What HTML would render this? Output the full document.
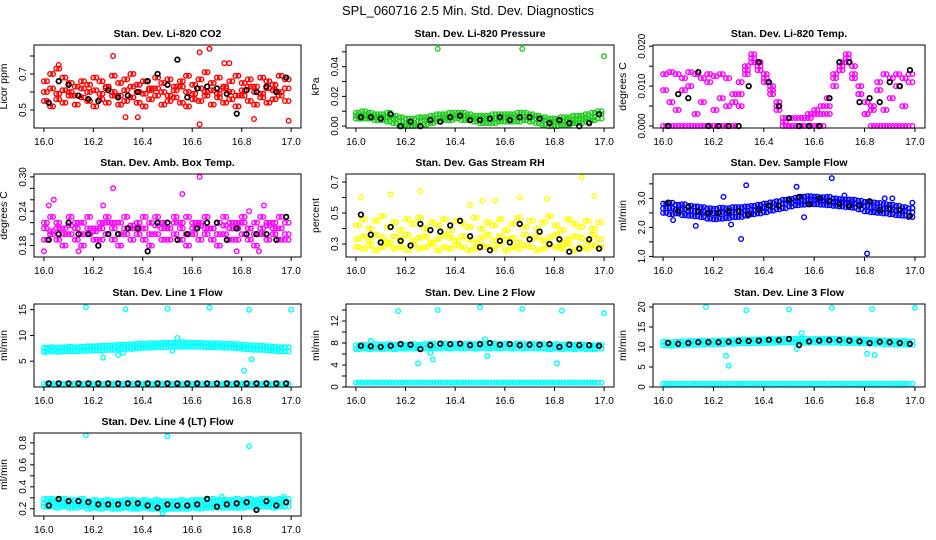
<!DOCTYPE html>
<html><head><meta charset="utf-8"><style>
body{margin:0;background:#fff;}
svg{display:block;font-family:"Liberation Sans",sans-serif;}
</style></head><body>
<svg id="chart" width="936" height="540" viewBox="0 0 936 540" xmlns="http://www.w3.org/2000/svg">
<rect width="936" height="540" fill="#fff"/>
<text x="468" y="15" text-anchor="middle" font-size="13">SPL_060716  2.5 Min. Std. Dev. Diagnostics</text>
</svg>
<script>
const T40=[16.000,16.025,16.050,16.075,16.100,16.125,16.150,16.175,16.200,16.225,16.250,16.275,16.300,16.325,16.350,16.375,16.400,16.425,16.450,16.475,16.500,16.525,16.550,16.575,16.600,16.625,16.650,16.675,16.700,16.725,16.750,16.775,16.800,16.825,16.850,16.875,16.900,16.925,16.950,16.975];
const T40B=[16.012,16.037,16.062,16.087,16.112,16.137,16.162,16.187,16.212,16.237,16.262,16.287,16.312,16.337,16.362,16.387,16.412,16.437,16.462,16.487,16.512,16.537,16.562,16.587,16.612,16.637,16.662,16.687,16.712,16.737,16.762,16.787,16.812,16.837,16.862,16.887,16.912,16.937,16.962,16.990];
const T25=[16.02,16.06,16.10,16.14,16.18,16.22,16.26,16.30,16.34,16.38,16.42,16.46,16.50,16.54,16.58,16.62,16.66,16.70,16.74,16.78,16.82,16.86,16.90,16.94,16.98];
const xTicks=[16.0,16.2,16.4,16.6,16.8,17.0];
const xTickLabels=["16.0","16.2","16.4","16.6","16.8","17.0"];

const co2A=[0.66,0.70,0.73,0.68,0.65,0.63,0.66,0.64,0.68,0.66,0.63,0.69,0.65,0.67,0.70,0.64,0.66,0.62,0.68,0.65,0.67,0.63,0.66,0.69,0.64,0.67,0.71,0.65,0.68,0.63,0.66,0.69,0.65,0.67,0.63,0.68,0.66,0.64,0.69,0.67];
const co2B=[0.55,0.52,0.56,0.54,0.58,0.53,0.57,0.55,0.52,0.56,0.54,0.58,0.53,0.55,0.57,0.54,0.52,0.56,0.58,0.53,0.55,0.57,0.54,0.52,0.56,0.55,0.58,0.53,0.57,0.54,0.56,0.52,0.58,0.55,0.53,0.57,0.54,0.56,0.58,0.55];
const co2C=[0.60,0.62,0.59,0.61,0.60,0.58,0.62,0.60,0.61,0.59,0.62,0.60,0.58,0.61,0.63,0.60,0.59,0.61,0.62,0.60,0.58,0.61,0.63,0.60,0.59,0.62,0.60,0.61,0.59,0.62,0.60,0.58,0.61,0.63,0.60,0.59,0.62,0.61,0.60,0.62];
const co2K=[0.54,0.66,0.64,0.58,0.56,0.55,0.61,0.57,0.58,0.60,0.66,0.70,0.64,0.78,0.57,0.62,0.63,0.62,0.59,0.48,0.61,0.60,0.63,0.60,0.68];
const co2OX=[16.28,16.63,16.67,16.63,16.99,16.85,16.33,16.38,16.75,16.73,16.06];
const co2OY=[0.80,0.82,0.84,0.42,0.44,0.45,0.46,0.46,0.76,0.76,0.75];
const prA=[0.009,0.010,0.009,0.008,0.008,0.009,0.007,0.006,0.005,0.005,0.006,0.006,0.007,0.008,0.008,0.009,0.009,0.009,0.008,0.007,0.007,0.007,0.008,0.008,0.008,0.008,0.009,0.009,0.008,0.007,0.006,0.005,0.005,0.006,0.006,0.007,0.007,0.008,0.009,0.010];
const prB=[0.005,0.005,0.005,0.004,0.004,0.003,0.002,0.000,0.000,0.000,0.000,0.001,0.002,0.003,0.004,0.004,0.005,0.004,0.004,0.003,0.002,0.002,0.002,0.003,0.003,0.003,0.003,0.004,0.003,0.002,0.001,0.000,0.000,0.001,0.001,0.002,0.002,0.003,0.004,0.005];
const prC=[0.007,0.007,0.007,0.006,0.006,0.006,0.005,0.003,0.002,0.002,0.003,0.004,0.005,0.005,0.006,0.006,0.007,0.007,0.006,0.005,0.005,0.005,0.005,0.005,0.006,0.006,0.006,0.006,0.006,0.005,0.004,0.003,0.003,0.003,0.004,0.004,0.005,0.005,0.006,0.008];
const prK=[0.006,0.006,0.005,0.008,0.000,0.003,0.000,0.004,0.003,0.006,0.007,0.004,0.004,0.005,0.006,0.004,0.006,0.006,0.005,0.002,0.004,0.002,0.000,0.002,0.008];
const prOX=[16.33,16.67,17.0];
const prOY=[0.052,0.052,0.047];
const tpA=[0.013,0.0135,0.013,0.012,0.0135,0.013,0.012,0.013,0.0125,0.013,0.012,0.008,0.011,0.015,0.017,0.016,0.012,0.008,0.004,0.002,0.000,0.002,0.002,0.003,0.004,0.005,0.007,0.012,0.016,0.018,0.015,0.010,0.006,0.004,0.011,0.013,0.012,0.013,0.012,0.013];
const tpB=[0,0,0,0,0,0,0,0,0,0,0,0,0.005,0.013,0.016,0.015,0.013,0.010,0.006,0.001,0,0,0,0,0,0,0.003,0.010,0.014,0.016,0.013,0.008,0.003,0,0,0,0,0,0,0];
const tpC=[0.009,0.006,0.004,0.009,0.010,0.003,0.006,0.011,0.004,0.007,0.005,0.006,0.008,0.014,0.018,0.014,0.011,0.009,0.005,0.000,0.002,0.000,0.002,0.002,0.003,0.003,0.005,0.013,0.015,0.017,0.012,0.008,0.003,0.005,0.009,0.004,0.007,0.010,0.005,0.011];
const tpK=[0.000,0.008,0.007,0.0135,0.000,0.000,0.000,0.000,0.010,0.016,0.011,0.005,0.002,0.000,0.000,0.000,0.007,0.016,0.016,0.006,0.007,0.006,0.011,0.010,0.014];
const abA=[0.22,0.23,0.22,0.21,0.23,0.22,0.22,0.23,0.21,0.22,0.23,0.22,0.22,0.23,0.21,0.22,0.23,0.22,0.23,0.22,0.21,0.23,0.22,0.23,0.22,0.22,0.23,0.21,0.22,0.23,0.22,0.22,0.23,0.21,0.22,0.23,0.22,0.22,0.23,0.22];
const abB=[0.19,0.20,0.19,0.18,0.20,0.19,0.18,0.20,0.19,0.19,0.20,0.19,0.18,0.20,0.19,0.20,0.19,0.18,0.20,0.19,0.19,0.20,0.19,0.18,0.20,0.19,0.20,0.19,0.18,0.20,0.19,0.19,0.20,0.19,0.18,0.20,0.19,0.20,0.19,0.19];
const abC=[0.21,0.205,0.21,0.20,0.215,0.21,0.20,0.21,0.205,0.21,0.22,0.21,0.20,0.21,0.215,0.21,0.21,0.20,0.215,0.21,0.21,0.22,0.21,0.20,0.21,0.215,0.21,0.21,0.20,0.215,0.21,0.21,0.22,0.21,0.20,0.21,0.215,0.21,0.21,0.20];
const abK=[0.19,0.20,0.22,0.20,0.20,0.18,0.20,0.20,0.21,0.21,0.17,0.22,0.22,0.19,0.20,0.21,0.22,0.22,0.19,0.21,0.20,0.20,0.20,0.19,0.23];
const abOX=[16.02,16.04,16.28,16.63,16.56,16.00,16.14,16.42,16.87,16.78,16.89,16.24,16.83];
const abOY=[0.25,0.26,0.28,0.30,0.27,0.17,0.17,0.17,0.17,0.17,0.25,0.25,0.24];
const rhA=[0.42,0.46,0.40,0.45,0.48,0.41,0.44,0.39,0.46,0.43,0.47,0.40,0.44,0.42,0.46,0.39,0.45,0.43,0.41,0.47,0.40,0.44,0.42,0.46,0.39,0.43,0.47,0.41,0.45,0.40,0.44,0.48,0.42,0.39,0.46,0.43,0.41,0.45,0.40,0.44];
const rhB=[0.28,0.27,0.29,0.26,0.28,0.30,0.27,0.28,0.26,0.29,0.27,0.28,0.30,0.26,0.28,0.27,0.29,0.28,0.26,0.27,0.29,0.28,0.27,0.30,0.26,0.28,0.27,0.29,0.28,0.26,0.27,0.29,0.28,0.27,0.30,0.26,0.28,0.27,0.29,0.28];
const rhC=[0.33,0.35,0.32,0.36,0.34,0.31,0.35,0.33,0.36,0.32,0.34,0.35,0.31,0.33,0.36,0.34,0.32,0.35,0.33,0.31,0.34,0.36,0.32,0.35,0.33,0.34,0.31,0.36,0.33,0.35,0.32,0.34,0.36,0.31,0.33,0.35,0.34,0.32,0.36,0.33];
const rhK=[0.49,0.36,0.31,0.41,0.32,0.29,0.43,0.39,0.38,0.42,0.45,0.35,0.28,0.26,0.32,0.31,0.43,0.33,0.38,0.30,0.33,0.25,0.27,0.33,0.27];
const rhOX=[16.02,16.14,16.26,16.91,16.96,16.51,16.56,16.77,16.66,16.46];
const rhOY=[0.60,0.62,0.64,0.73,0.61,0.58,0.58,0.59,0.60,0.55];
const sfA=[2.82,2.85,2.78,2.80,2.74,2.72,2.70,2.66,2.64,2.68,2.66,2.70,2.70,2.72,2.74,2.78,2.82,2.86,2.90,2.95,2.98,3.02,3.06,3.08,3.06,3.04,3.05,3.00,2.98,2.96,2.95,2.92,2.88,2.86,2.84,2.80,2.78,2.74,2.70,2.66];
const sfB=[2.50,2.45,2.48,2.42,2.40,2.38,2.35,2.30,2.28,2.30,2.32,2.35,2.36,2.40,2.45,2.48,2.52,2.58,2.62,2.66,2.72,2.76,2.78,2.80,2.80,2.78,2.76,2.74,2.72,2.70,2.68,2.62,2.55,2.52,2.50,2.48,2.45,2.42,2.40,2.36];
const sfC=[2.65,2.66,2.62,2.62,2.58,2.56,2.54,2.50,2.48,2.50,2.50,2.52,2.54,2.56,2.60,2.64,2.68,2.72,2.76,2.82,2.86,2.90,2.92,2.94,2.94,2.92,2.90,2.88,2.86,2.84,2.82,2.78,2.74,2.70,2.68,2.66,2.62,2.60,2.56,2.52];
const sfK=[2.85,2.55,2.70,2.55,2.50,2.50,2.55,2.55,2.45,2.60,2.75,2.75,2.95,3.05,2.80,3.00,2.90,2.80,2.75,2.75,2.90,2.60,2.65,2.60,2.40];
const sfOX=[16.13,16.27,16.31,16.33,16.67,16.81,16.56,16.24,16.53,16.88,16.91,16.99,16.72,16.04];
const sfOY=[2.05,2.10,1.60,3.45,3.70,1.10,2.35,3.05,3.40,3.00,3.00,2.85,3.10,2.25];
const l1A=[7.6,7.7,7.6,7.7,7.8,7.7,7.8,7.9,7.9,8.0,8.0,8.1,8.2,8.2,8.3,8.4,8.4,8.5,8.5,8.6,8.6,8.6,8.7,8.6,8.6,8.6,8.5,8.5,8.5,8.4,8.4,8.3,8.2,8.1,8.0,8.0,7.9,7.8,7.7,7.7];
const l1B=[6.8,6.9,6.8,6.9,6.9,6.9,7.0,7.0,7.1,7.1,7.2,7.2,7.3,7.4,7.4,7.5,7.6,7.6,7.7,7.7,7.8,7.8,7.8,7.8,7.8,7.8,7.7,7.7,7.7,7.6,7.6,7.5,7.4,7.3,7.2,7.2,7.1,7.0,6.9,6.9];
const l1C=[0.6,0.6,0.6,0.6,0.6,0.6,0.6,0.6,0.6,0.6,0.6,0.6,0.6,0.6,0.6,0.6,0.6,0.6,0.6,0.6,0.6,0.6,0.6,0.6,0.6,0.6,0.6,0.6,0.6,0.6,0.6,0.6,0.6,0.6,0.6,0.6,0.6,0.6,0.6,0.6];
const l1K=[0.7,0.7,0.7,0.7,0.7,0.7,0.7,0.7,0.7,0.7,0.7,0.7,0.7,0.7,0.7,0.7,0.7,0.7,0.7,0.7,0.7,0.7,0.7,0.7,0.7];
const l1OX=[16.17,16.33,16.50,16.67,16.83,17.00,16.24,16.30,16.32,16.81,16.84,16.52,16.54,16.00];
const l1OY=[15.5,15.1,15.2,15.4,15.0,15.0,5.7,6.2,6.6,3.2,5.4,7.0,9.5,6.9];
const l2A=[7.6,7.7,7.6,7.8,7.7,7.8,7.7,7.8,7.7,7.8,7.7,7.8,7.9,7.8,7.9,7.8,7.9,7.8,7.9,7.8,7.9,7.8,7.9,7.8,7.9,7.8,7.9,7.8,7.9,7.8,7.8,7.7,7.8,7.7,7.8,7.7,7.8,7.7,7.6,7.7];
const l2B=[6.9,7.0,6.9,7.0,6.9,7.0,6.9,7.0,7.0,7.0,7.0,7.0,7.1,7.0,7.1,7.0,7.1,7.0,7.1,7.0,7.1,7.0,7.1,7.0,7.1,7.0,7.1,7.0,7.1,7.0,7.0,6.9,7.0,6.9,7.0,6.9,7.0,6.9,6.9,7.0];
const l2C=[0.8,0.8,0.8,0.8,0.8,0.8,0.8,0.8,0.8,0.8,0.8,0.8,0.8,0.8,0.8,0.8,0.8,0.8,0.8,0.8,0.8,0.8,0.8,0.8,0.8,0.8,0.8,0.8,0.8,0.8,0.8,0.8,0.8,0.8,0.8,0.8,0.8,0.8,0.8,0.8];
const l2K=[7.5,7.4,7.3,7.5,7.8,7.7,6.9,7.6,7.9,7.8,7.9,7.6,7.8,8.0,7.7,7.8,7.6,7.7,7.7,7.8,7.3,7.7,7.6,7.6,7.5];
const l2OX=[16.17,16.33,16.50,16.67,16.83,17.00,16.25,16.81,16.31,16.53,16.30,16.06,16.52];
const l2OY=[13.8,14.0,14.5,14.2,13.9,13.4,4.3,4.3,5.0,5.6,6.2,8.4,8.7];
const l3A=[11.3,11.2,11.3,11.4,11.5,11.5,11.6,11.5,11.6,11.6,11.7,11.7,11.8,11.8,11.8,11.9,11.9,12.0,12.0,12.1,12.1,12.0,12.1,12.0,12.0,12.0,12.1,12.0,12.0,11.9,11.9,11.8,11.8,11.7,11.7,11.6,11.6,11.5,11.5,11.4];
const l3B=[10.4,10.3,10.4,10.5,10.5,10.6,10.6,10.7,10.7,10.7,10.8,10.8,10.9,10.9,10.9,11.0,11.0,11.0,11.1,11.1,11.1,11.1,11.1,11.1,11.1,11.1,11.1,11.1,11.0,11.0,11.0,10.9,10.9,10.8,10.8,10.7,10.7,10.6,10.6,10.5];
const l3C=[0.8,0.8,0.8,0.8,0.8,0.8,0.8,0.8,0.8,0.8,0.8,0.8,0.8,0.8,0.8,0.8,0.8,0.8,0.8,0.8,0.8,0.8,0.8,0.8,0.8,0.8,0.8,0.8,0.8,0.8,0.8,0.8,0.8,0.8,0.8,0.8,0.8,0.8,0.8,0.8];
const l3K=[11.0,10.8,11.0,11.2,11.2,11.2,11.3,11.5,11.5,11.6,11.8,11.7,12.0,10.5,11.4,11.6,11.7,11.7,11.6,11.4,11.0,11.3,11.2,11.0,10.8];
const l3OX=[16.17,16.33,16.50,16.67,16.83,17.00,16.25,16.26,16.84,16.81,16.55,16.53];
const l3OY=[20.0,19.2,19.4,19.8,19.5,19.8,7.8,5.3,8.0,8.3,13.5,9.5];
const l4A=[0.29,0.29,0.28,0.29,0.28,0.28,0.29,0.27,0.28,0.27,0.28,0.27,0.27,0.28,0.28,0.27,0.28,0.27,0.28,0.27,0.27,0.27,0.28,0.27,0.28,0.28,0.28,0.29,0.28,0.28,0.28,0.29,0.28,0.29,0.28,0.29,0.29,0.28,0.29,0.29];
const l4B=[0.22,0.22,0.21,0.22,0.21,0.21,0.22,0.20,0.21,0.20,0.21,0.20,0.20,0.21,0.20,0.20,0.21,0.20,0.20,0.19,0.20,0.20,0.20,0.20,0.21,0.20,0.21,0.21,0.21,0.21,0.21,0.21,0.21,0.22,0.21,0.22,0.22,0.21,0.22,0.22];
const l4C=[0.25,0.26,0.25,0.25,0.25,0.24,0.25,0.24,0.24,0.24,0.24,0.23,0.24,0.24,0.24,0.23,0.24,0.24,0.23,0.23,0.23,0.23,0.24,0.23,0.24,0.24,0.24,0.25,0.24,0.25,0.24,0.25,0.25,0.25,0.25,0.25,0.25,0.25,0.25,0.26];
const l4K=[0.23,0.29,0.27,0.27,0.26,0.24,0.24,0.24,0.25,0.25,0.23,0.21,0.24,0.23,0.23,0.24,0.29,0.22,0.24,0.25,0.26,0.19,0.27,0.23,0.26];
const l4OX=[16.17,16.50,16.83,16.72,16.97,16.48];
const l4OY=[0.87,0.86,0.77,0.31,0.31,0.16];

const panels=[
 {name:"co2",title:"Stan. Dev. Li-820 CO2",ylab:"Licor ppm",col:0,row:0,ymin:0.40,ymax:0.861,ticks:[0.5,0.6,0.7,0.8],labels:["0.5","","0.7",""],color:"#ff0000",A:co2A,B:co2B,C:co2C,K:co2K,OX:co2OX,OY:co2OY},
 {name:"pressure",title:"Stan. Dev. Li-820 Pressure",ylab:"kPa",col:1,row:0,ymin:-0.0013,ymax:0.0546,ticks:[0,0.01,0.02,0.03,0.04,0.05],labels:["0.00","","0.02","","0.04",""],color:"#1ecc1e",A:prA,B:prB,C:prC,K:prK,OX:prOX,OY:prOY},
 {name:"li820-temp",title:"Stan. Dev. Li-820 Temp.",ylab:"degrees C",col:2,row:0,ymin:-0.0005,ymax:0.0203,ticks:[0,0.005,0.01,0.015,0.02],labels:["0.000","","0.010","","0.020"],color:"#ff00ff",A:tpA,B:tpB,C:tpC,K:tpK,OX:[],OY:[]},
 {name:"amb-box-temp",title:"Stan. Dev. Amb. Box Temp.",ylab:"degrees C",col:0,row:1,ymin:0.16,ymax:0.305,ticks:[0.18,0.20,0.22,0.24,0.26,0.28,0.30],labels:["0.18","","","0.24","","","0.30"],color:"#ff00ff",A:abA,B:abB,C:abC,K:abK,OX:abOX,OY:abOY},
 {name:"gas-rh",title:"Stan. Dev. Gas Stream RH",ylab:"percent",col:1,row:1,ymin:0.216,ymax:0.752,ticks:[0.3,0.4,0.5,0.6,0.7],labels:["0.3","","0.5","","0.7"],color:"#ffff00",A:rhA,B:rhB,C:rhC,K:rhK,OX:rhOX,OY:rhOY},
 {name:"sample-flow",title:"Stan. Dev. Sample Flow",ylab:"ml/min",col:2,row:1,ymin:0.98,ymax:3.84,ticks:[1.0,1.5,2.0,2.5,3.0,3.5],labels:["1.0","","2.0","","3.0",""],color:"#0000ff",A:sfA,B:sfB,C:sfC,K:sfK,OX:sfOX,OY:sfOY},
 {name:"line1-flow",title:"Stan. Dev. Line 1 Flow",ylab:"ml/min",col:0,row:2,ymin:0,ymax:16.1,ticks:[5,10,15],labels:["5","10","15"],color:"#00ffff",A:l1A,B:l1B,C:l1C,K:l1K,OX:l1OX,OY:l1OY},
 {name:"line2-flow",title:"Stan. Dev. Line 2 Flow",ylab:"ml/min",col:1,row:2,ymin:0,ymax:15.1,ticks:[0,2,4,6,8,10,12,14],labels:["0","","4","","8","","12",""],color:"#00ffff",A:l2A,B:l2B,C:l2C,K:l2K,OX:l2OX,OY:l2OY},
 {name:"line3-flow",title:"Stan. Dev. Line 3 Flow",ylab:"ml/min",col:2,row:2,ymin:0,ymax:20.75,ticks:[0,5,10,15,20],labels:["0","5","10","15","20"],color:"#00ffff",A:l3A,B:l3B,C:l3C,K:l3K,OX:l3OX,OY:l3OY},
 {name:"line4-flow",title:"Stan. Dev. Line 4 (LT) Flow",ylab:"ml/min",col:0,row:3,ymin:0.134,ymax:0.89,ticks:[0.2,0.3,0.4,0.5,0.6,0.7,0.8],labels:["0.2","","0.4","","0.6","","0.8"],color:"#00ffff",A:l4A,B:l4B,C:l4C,K:l4K,OX:l4OX,OY:l4OY}
];
const colLeft=[34,346,653], colW=[267,268,272], rowTop=[45,174,304,433], boxH=83;
const NS="http://www.w3.org/2000/svg";
const svg=document.getElementById('chart');
function mk(tag,attrs,parent){const e=document.createElementNS(NS,tag);for(const k in attrs)e.setAttribute(k,attrs[k]);parent.appendChild(e);return e;}
panels.forEach(p=>{
  const L=colLeft[p.col], W=colW[p.col], T=rowTop[p.row], H=boxH;
  const pad=W/1.08*0.04, dw=W/1.08;
  const xs=v=>L+pad+(v-16)*dw;
  const ys=v=>T+H-(v-p.ymin)/(p.ymax-p.ymin)*H;
  const g=mk('g',{},svg);
  
  
  const title=mk('text',{x:L+W/2,y:T-8,'text-anchor':'middle','font-size':'10.5','font-weight':'bold'},g);
  title.textContent=p.title;
  
  
  const cx=L-27, cy=T+H/2;
  const yl=mk('text',{x:cx,y:cy,'text-anchor':'middle','font-size':'10.5',transform:`rotate(-90 ${cx} ${cy})`},g);
  yl.textContent=p.ylab;
  
  
  const marks=mk('g',{fill:'none'},g);
  
  
  function pts(X,Y,color,sw){for(let i=0;i<Y.length;i++){const c=mk('circle',{cx:xs(X[i]).toFixed(1),cy:ys(Y[i]).toFixed(1),r:2.3,stroke:color,'stroke-width':sw},marks);
    
    }}
  pts(T40,p.C,p.color,1.4);pts(T40B,p.C,p.color,1.4);
  pts(T40,p.A,p.color,1.4);pts(T40B,p.B,p.color,1.4);
  pts(T40B,p.A,p.color,1.4);pts(T40,p.B,p.color,1.4);
  pts(p.OX,p.OY,p.color,1.4);
  pts(T25,p.K,'#000',1.7);
  const box=mk('rect',{x:L,y:T,width:W,height:H,fill:'none',stroke:'#000','stroke-width':'1'},g);
  
  
  xTicks.forEach((v,i)=>{const x=xs(v);
    const tk=mk('line',{x1:x,y1:T+H,x2:x,y2:T+H+4,stroke:'#000'},g);
    
    
    const t=mk('text',{x:x,y:T+H+17,'text-anchor':'middle','font-size':'10'},g);
    t.textContent=xTickLabels[i];
    
    });
  p.ticks.forEach((v,i)=>{const y=ys(v);
    const tk=mk('line',{x1:L-4,y1:y,x2:L,y2:y,stroke:'#000'},g);
    
    
    if(p.labels[i]){const tx=L-8;const t=mk('text',{x:tx,y:y,'text-anchor':'middle','font-size':'10',transform:`rotate(-90 ${tx} ${y})`},g);
    t.textContent=p.labels[i];
    
    }});
});
</script>
</body></html>
